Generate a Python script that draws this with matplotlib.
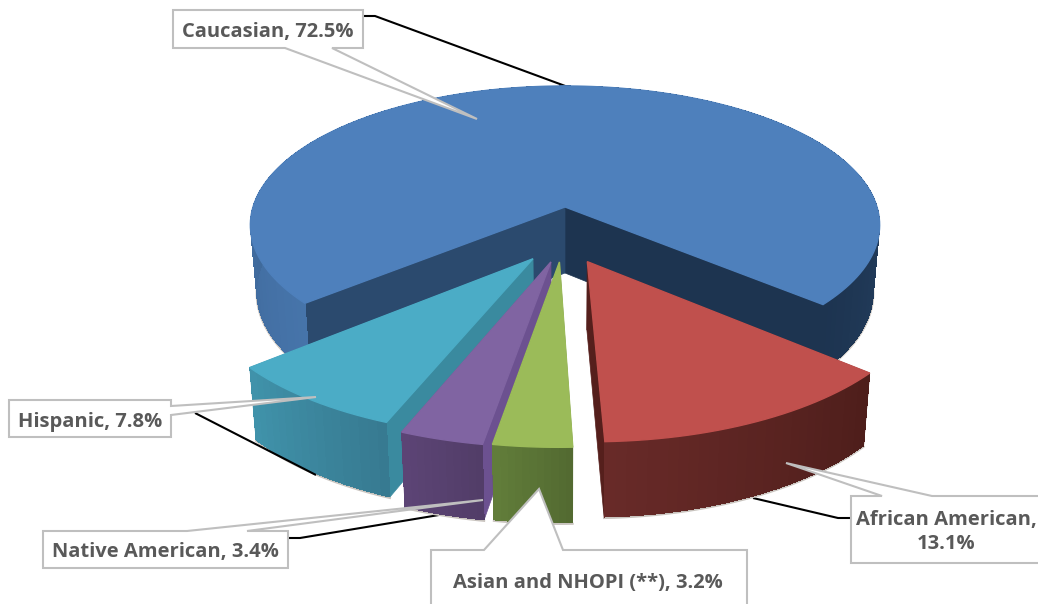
import numpy as np
import matplotlib
matplotlib.use("Agg")
import matplotlib.pyplot as plt
from matplotlib.colors import to_rgb

# Datos del grafico
categories = ["Caucasian", "African American", "Asian and NHOPI (**)", "Native American", "Hispanic"]
values = [72.5, 13.1, 3.2, 3.4, 7.8]

# Estilo de cada porcion (mismo orden que categories)
top_colors = ["#4e80bc", "#c0504d", "#9bbb59", "#8064a2", "#4bacc6"]
side_from = ["#4674aa", "#4e1e1b", "#536a31", "#523d68", "#377a91"]
side_to = ["#1d3450", "#682a28", "#617d3a", "#5c4475", "#4092aa"]
wall_a = ["#1d3450", "#551f1c", "#536a31", "#523d68", "#377a91"]
wall_b = ["#2b4a6e", "#551f1c", "#536a31", "#6c5190", "#3a8a9f"]
explode = [(0, 0), (0.068, 0.38), (-0.017, 0.382), (-0.043, 0.382), (-0.098, 0.361)]
radius = [1.0, 1.025, 1.05, 1.05, 1.02]
draw_order = [0, 4, 1, 3, 2]
start_angle = 139.8

# Proyeccion en perspectiva del disco
cx, cy = 565, 207
a, b, k = 312, 136.7, 0.1295
scale_x, scale_y, depth = 0.98, 1.04, 66


def project(u, v):
    w = 1 - k * np.asarray(v)
    return a * np.asarray(u) / w, b * np.asarray(v) / w


def top_xy(u, v):
    x, y = project(u, v)
    return cx + x, cy + y


def bottom_xy(u, v):
    x, y = project(u, v)
    return cx + x * scale_x, cy + y * scale_y + depth


fig = plt.figure(figsize=(10.38, 6.04), dpi=100)
ax = fig.add_axes([0, 0, 1, 1])
ax.set_xlim(0, 1038)
ax.set_ylim(604, 0)
ax.axis("off")

angles = start_angle + 3.6 * np.concatenate([[0], np.cumsum(values)])

for n, i in enumerate(draw_order):
    z = 2 + n
    t0, t1 = np.radians(angles[i]), np.radians(angles[i + 1])
    t = np.linspace(t0, t1, max(12, int(abs(angles[i + 1] - angles[i]) / 1.5)))
    ox, oy = explode[i]
    r = radius[i]
    u = ox + r * np.cos(t)
    v = oy + r * np.sin(t)
    tx, ty = top_xy(u, v)
    bx, by = bottom_xy(u, v)
    ax_t, ay_t = top_xy(ox, oy)
    ax_b, ay_b = bottom_xy(ox, oy)

    # sombra fina bajo la base
    ax.plot(bx, by + 1, color="#c9c4bf", lw=1.5, zorder=z)

    # paredes del corte: primero la que queda oculta
    ax.fill([ax_t, tx[-1], bx[-1], ax_b], [ay_t, ty[-1], by[-1], ay_b], color=wall_a[i], lw=0.5, zorder=z)
    ax.fill([ax_t, tx[0], bx[0], ax_b], [ay_t, ty[0], by[0], ay_b], color=wall_b[i], lw=0.5, zorder=z)

    # cara lateral con degradado
    c0, c1 = np.array(to_rgb(side_from[i])), np.array(to_rgb(side_to[i]))
    for j in range(len(t) - 1):
        f = j / (len(t) - 2)
        col = c0 + (c1 - c0) * f
        ax.fill([tx[j], tx[j + 1], bx[j + 1], bx[j]], [ty[j], ty[j + 1], by[j + 1], by[j]],
                facecolor=col, edgecolor="none", antialiased=False, zorder=z)

    # cara superior
    ax.fill(np.r_[ax_t, tx], np.r_[ay_t, ty], color=top_colors[i], lw=1, zorder=z + 0.1)

# Lineas guia negras
leaders = [
    [(363, 16), (375, 16), (568, 87)],
    [(195, 413), (316, 475)],
    [(288, 538), (300, 538), (445, 514)],
    [(851, 518), (838, 518), (753, 498)],
]
for line in leaders:
    xs, ys = zip(*line)
    ax.plot(xs, ys, color="black", lw=1.5, zorder=1.5 if line[0][0] != 195 else 20, solid_capstyle="butt")

# Globos de texto: caja, base de la flecha y punta
box_edge = "#bfbfbf"
text_color = "#595959"
callouts = [
    dict(box=(173, 10, 363, 48), side="bottom", base=(285, 332), tip=(477, 119)),
    dict(box=(851, 496, 1060, 563), side="top", base=(882, 932), tip=(786, 463)),
    dict(box=(431, 550, 747, 620), side="top", base=(484, 563), tip=(539, 489)),
    dict(box=(43, 531, 288, 568), side="top", base=(187, 247), tip=(483, 500)),
    dict(box=(9, 400, 171, 437), side="right", base=(406, 415), tip=(316, 397)),
]
for c in callouts:
    x0, y0, x1, y1 = c["box"]
    p, q = c["base"]
    tx, ty = c["tip"]
    if c["side"] == "top":
        pts = [(x0, y0), (p, y0), (tx, ty), (q, y0), (x1, y0), (x1, y1), (x0, y1)]
    elif c["side"] == "bottom":
        pts = [(x0, y0), (x1, y0), (x1, y1), (q, y1), (tx, ty), (p, y1), (x0, y1)]
    else:
        pts = [(x0, y0), (x1, y0), (x1, p), (tx, ty), (x1, q), (x1, y1), (x0, y1)]
    xs, ys = zip(*pts)
    ax.fill(xs, ys, facecolor="white", edgecolor=box_edge, lw=1.5, zorder=30, clip_on=True)

labels = [f"{name}, {val}%" for name, val in zip(categories, values)]
labels[1] = f"{categories[1]},\n{values[1]}%"
label_pos = [(268, 32), (946, 532), (588, 583), (165, 552), (90, 422)]
for lab, (x, y) in zip(labels, label_pos):
    ax.text(x, y, lab, ha="center", va="center", fontsize=14.5, fontweight="bold", family="Open Sans",
            color=text_color, zorder=40, linespacing=1.25, clip_on=True)

fig.savefig("out.png", dpi=100, facecolor="white")
